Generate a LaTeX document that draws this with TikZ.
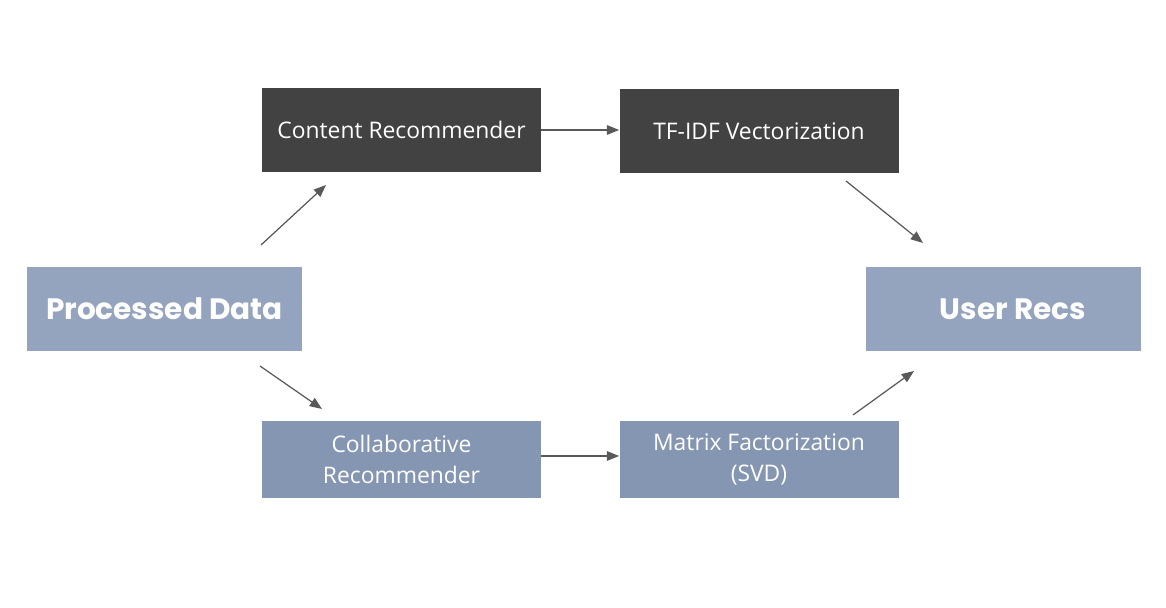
\documentclass[tikz,border=0pt]{standalone}
\usepackage{fontspec}
\setmainfont{Open Sans}
\newfontfamily\boldfont{Poppins}[UprightFont=* Bold]
\usetikzlibrary{arrows.meta}
\definecolor{darkbox}{HTML}{424242}
\definecolor{lightbox}{HTML}{94A3BE}
\definecolor{midbox}{HTML}{8596B3}
\definecolor{arrowgray}{HTML}{595959}
\begin{document}
\begin{tikzpicture}[
  box/.style={minimum width=5.58cm, minimum height=1.68cm, inner sep=0pt,
    text=white, font=\fontsize{13}{17.6}\selectfont, align=center},
  darkstep/.style={box, fill=darkbox},
  midstep/.style={box, fill=midbox, minimum height=1.54cm},
  endbox/.style={box, fill=lightbox, minimum width=5.5cm, font=\boldfont\fontsize{16.8}{20}\selectfont},
  flow/.style={draw=arrowgray, line width=0.7pt, -{Triangle[length=7pt,width=5.5pt]}}
]
\useasboundingbox (0,0) rectangle (23.32,12.16);
\node [endbox] (data) at (3.29,5.98) {Processed Data};
\node [endbox, text depth=0pt] (recs) at (20.07,5.98) {\hspace*{0.38cm}User Recs};
\node [darkstep] (content) at (8.03,9.56) {Content Recommender};
\node [darkstep] (tfidf) at (15.18,9.53) {TF-IDF Vectorization};
\node [midstep] (collab) at (8.03,2.97) {Collaborative\\Recommender};
\node [midstep] (svd) at (15.18,2.97) {Matrix Factorization\\(SVD)};
% free ends of the diagonal arrows
\coordinate (up1) at (5.22,7.26);
\coordinate (up2) at (6.52,8.46);
\coordinate (dn1) at (5.2,4.84);
\coordinate (dn2) at (6.44,3.98);
\coordinate (tf1) at (16.92,8.54);
\coordinate (tf2) at (18.46,7.30);
\coordinate (sv1) at (17.06,3.86);
\coordinate (sv2) at (18.28,4.74);
\draw [flow] (up1) -- (up2);
\draw [flow] (dn1) -- (dn2);
\draw [flow] (content.east) -- (tfidf.west |- content.east);
\draw [flow] ([yshift=0.07cm]collab.east) -- ([yshift=0.07cm]svd.west);
\draw [flow] (tf1) -- (tf2);
\draw [flow] (sv1) -- (sv2);
\end{tikzpicture}
\end{document}
